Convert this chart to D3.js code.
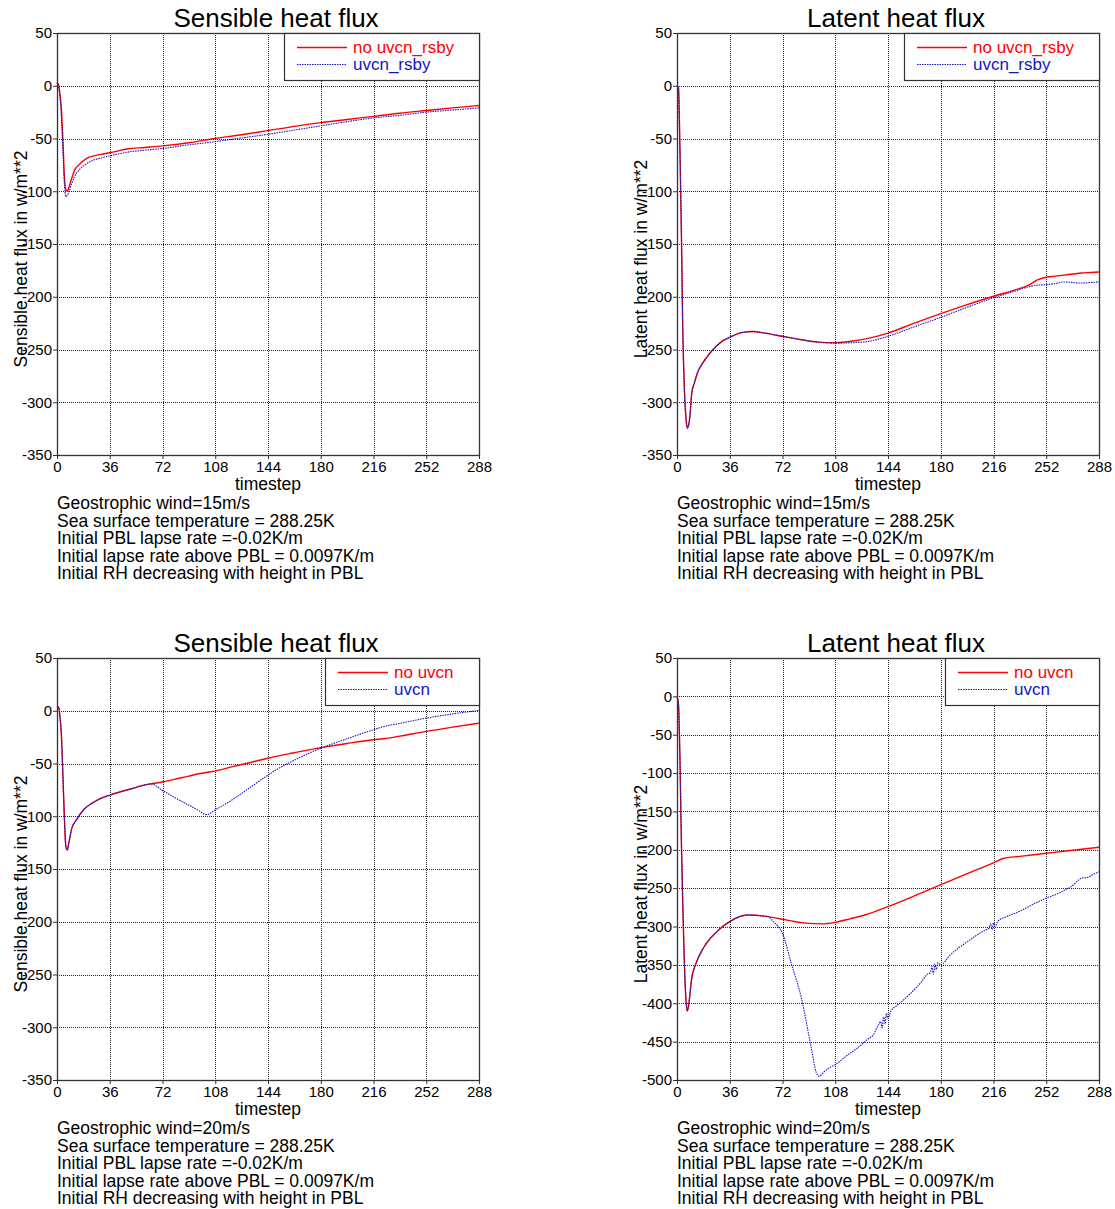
<!DOCTYPE html>
<html lang="en">
<head>
<meta charset="UTF-8">
<script src="https://cdn.jsdelivr.net/npm/d3@7/dist/d3.min.js"></script>
<title>Heat flux</title>
<style>
  body { margin: 0; background: #fff; font-family: Arial, "Liberation Sans", sans-serif; }
</style>
</head>
<body>
<script>
// tick labels
var xTicks = [0, 36, 72, 108, 144, 180, 216, 252, 288];
var yTicksA = [50, 0, -50, -100, -150, -200, -250, -300, -350];
var yTicksB = [50, 0, -50, -100, -150, -200, -250, -300, -350, -400, -450, -500];

// sensible heat flux, 15 m/s
var sh15Steps = [0,1,2,3,4,5,6,7,8,10,12,15,20,25,30,36,48,60,72,90,108,126,144,162,180,198,216,234,252,270,288];
var sh15NoRsby = [3,1,-8,-22,-50,-85,-98,-100,-97,-88,-80,-75,-69,-66.5,-65,-63.5,-60,-58.5,-57,-54,-50,-46.5,-42.5,-38.5,-35,-32,-29,-26,-23.5,-21,-18.7];
var sh15Rsby   = [3,0,-10,-30,-60,-92,-105,-104,-101,-93,-86,-80,-74,-70.5,-68.5,-66.5,-63,-61,-59.5,-56,-53,-49.5,-46,-42,-38,-34,-30.5,-28,-25,-23,-21];

// latent heat flux, 15 m/s
var lh15Steps = [0,1,2,3,4,5,6,7,8,9,10,12,14,17,20,24,30,36,44,52,60,72,84,96,108,120,132,144,162,180,198,216,232,240,246,252,258,264,270,276,282,288];
var lh15NoRsby = [0,-2,-60,-140,-235,-285,-312,-324,-321,-310,-292,-281,-272,-264,-258,-251,-243,-238.5,-234,-233,-234.5,-237.5,-240.5,-243,-243.5,-242,-239,-234.5,-225,-216,-207.5,-199.5,-193,-189,-184,-181.5,-180.5,-179.5,-178.5,-177.5,-177,-176.5];
var lh15Rsby   = [0,-2,-60,-140,-236,-287,-314,-325,-322,-311,-293,-281,-272,-264,-258,-251,-243,-238.5,-234,-233,-234.5,-237.5,-240.5,-243,-244,-243.5,-242,-237.5,-228.5,-219.5,-210,-201,-194,-190.5,-189,-188.5,-187.5,-186,-186.5,-187,-186.5,-186];

// sensible heat flux, 20 m/s
var sh20Steps = [0,1,2,3,4,5,6,7,8,10,13,18,24,30,36,44,52,58,64,72,80,90,96,102,108,120,132,144,152,161,170,180,198,216,223,234,252,270,288];
var sh20NoUvcn = [4,3.5,-5,-23,-60,-100,-128,-132,-126,-112,-104,-94,-87.5,-83,-80,-76.5,-73.5,-71,-69.3,-67.5,-65,-62,-60,-58.5,-57,-53,-49,-45,-42.5,-40,-37.5,-35,-31,-27.5,-26.5,-24,-19.5,-15.5,-11.7];
var sh20Uvcn   = [4,3.5,-5,-23,-60,-100,-128,-132,-126,-112,-104,-94,-87.5,-83,-80,-76.5,-73.5,-71,-69.3,-75.5,-82,-89.5,-94,-98.5,-94,-84,-72.5,-61,-54,-47.5,-41.5,-35.5,-26.5,-18,-15,-12,-7,-3,0.3];

// latent heat flux, 20 m/s
var lh20StepsA = [0,1,2,3,4,5,6,7,8,9,10,13,18,27,36,48,62,72,80,88,99,108,118,128,144,162,180,198,216,223,234,252,270,288];
var lh20NoUvcn = [0,-10,-80,-190,-275,-345,-392,-410,-402,-385,-368,-348,-328,-307,-293.5,-285,-287,-290.5,-293.5,-295.5,-296.5,-294.5,-290,-285,-274,-260,-245.5,-231,-217,-211,-208.5,-204.5,-200.5,-196.7];
var lh20StepsB = [0,1,2,3,4,5,6,7,8,9,10,13,18,27,36,48,62,66,72,78,85,92,95,97,100,104,108,116,124,130,134,137,139,140,141,142,143,144,146,150,155,160,166,171,173,174,175,176,177,178,180,186,192,198,204,210,213,214,215,216,217,219,225,234,243,252,260,266,269,272,276,280,284,288];
var lh20Uvcn   = [0,-10,-80,-190,-275,-345,-392,-410,-402,-385,-368,-348,-328,-307,-293.5,-285,-287,-294,-309,-348,-394,-462,-490,-495,-490,-484,-480,-468,-457,-447,-441,-430,-424,-432,-418,-427,-413,-420,-410,-403,-395,-386,-374,-362,-360,-352,-362,-349,-356,-347,-350,-338,-328,-320,-312,-305,-302,-296,-304,-295,-300,-293,-287,-280,-271,-263,-257,-251,-248,-243,-237,-236,-232,-228.5];

var notes15 = ["Geostrophic wind=15m/s", "Sea surface temperature = 288.25K", "Initial PBL lapse rate =-0.02K/m",
               "Initial lapse rate above PBL = 0.0097K/m", "Initial RH decreasing with height in PBL"];
var notes20 = ["Geostrophic wind=20m/s", "Sea surface temperature = 288.25K", "Initial PBL lapse rate =-0.02K/m",
               "Initial lapse rate above PBL = 0.0097K/m", "Initial RH decreasing with height in PBL"];

function pairs(steps, vals) { return steps.map(function(t, i) { return [t, vals[i]]; }); }

var RED = "#ff0000", BLUE = "#1414c8";
var FONT = "Arial, 'Liberation Sans', sans-serif";
var W = 422, H = 422;

var panels = [
  { left: 57, top: 33, title: "Sensible heat flux", ylabel: "Sensible heat flux in w/m**2", yTicks: yTicksA,
    series: [ { name: "no uvcn_rsby", data: pairs(sh15Steps, sh15NoRsby), color: RED },
              { name: "uvcn_rsby", data: pairs(sh15Steps, sh15Rsby), color: BLUE, dotted: true } ], notes: notes15 },
  { left: 677, top: 33, title: "Latent heat flux", ylabel: "Latent heat flux in w/m**2", yTicks: yTicksA,
    series: [ { name: "no uvcn_rsby", data: pairs(lh15Steps, lh15NoRsby), color: RED },
              { name: "uvcn_rsby", data: pairs(lh15Steps, lh15Rsby), color: BLUE, dotted: true } ], notes: notes15 },
  { left: 57, top: 658, title: "Sensible heat flux", ylabel: "Sensible heat flux in w/m**2", yTicks: yTicksA,
    series: [ { name: "no uvcn", data: pairs(sh20Steps, sh20NoUvcn), color: RED },
              { name: "uvcn", data: pairs(sh20Steps, sh20Uvcn), color: BLUE, dotted: true } ], notes: notes20 },
  { left: 677, top: 658, title: "Latent heat flux", ylabel: "Latent heat flux in w/m**2", yTicks: yTicksB,
    series: [ { name: "no uvcn", data: pairs(lh20StepsA, lh20NoUvcn), color: RED },
              { name: "uvcn", data: pairs(lh20StepsB, lh20Uvcn), color: BLUE, dotted: true } ], notes: notes20 }
];

var svg = d3.select("body").append("svg")
    .attr("width", 1115).attr("height", 1209)
    .style("font-family", FONT);

panels.forEach(function(p) {
  var yMin = d3.min(p.yTicks), yMax = d3.max(p.yTicks);
  var x = d3.scaleLinear().domain([0, 288]).range([0, W]);
  var y = d3.scaleLinear().domain([yMin, yMax]).range([H, 0]);

  var g = svg.append("g").attr("transform", "translate(" + p.left + "," + p.top + ")");

  // grid
  var grid = g.append("g").attr("shape-rendering", "crispEdges")
      .attr("stroke", "#222").attr("stroke-width", 1).attr("stroke-dasharray", "1,1");
  grid.selectAll("line.v").data(xTicks.slice(1, -1)).enter().append("line")
      .attr("x1", function(d) { return Math.round(x(d)) + 0.5; })
      .attr("x2", function(d) { return Math.round(x(d)) + 0.5; })
      .attr("y1", 0).attr("y2", H);
  grid.selectAll("line.h").data(p.yTicks.filter(function(d) { return d !== yMin && d !== yMax; })).enter().append("line")
      .attr("y1", function(d) { return Math.round(y(d)) + 0.5; })
      .attr("y2", function(d) { return Math.round(y(d)) + 0.5; })
      .attr("x1", 0).attr("x2", W);

  // axes (plain hyphen minus, as in the original)
  var plain = function(d) { return String(d); };
  var xa = g.append("g").attr("transform", "translate(0," + H + ")")
      .call(d3.axisBottom(x).tickValues(xTicks).tickFormat(plain).tickSize(4).tickPadding(2));
  var ya = g.append("g")
      .call(d3.axisLeft(y).tickValues(p.yTicks).tickFormat(plain).tickSize(4).tickPadding(1));
  [xa, ya].forEach(function(a) {
    a.attr("font-family", FONT);
    a.select(".domain").remove();
    a.selectAll("line").attr("stroke", "#333");
    a.selectAll("text").attr("font-size", "15px").attr("fill", "#000");
  });

  // lines
  var line = d3.line().x(function(d) { return x(d[0]); }).y(function(d) { return y(d[1]); })
      .curve(d3.curveMonotoneX);
  p.series.forEach(function(s) {
    g.append("path").datum(s.data)
      .attr("fill", "none").attr("stroke", s.color)
      .attr("stroke-width", s.dotted ? 1.1 : 1.4)
      .attr("stroke-dasharray", s.dotted ? "1.5,1" : null)
      .attr("d", line);
  });

  // frame
  g.append("rect").attr("x", 0.5).attr("y", 0.5).attr("width", W).attr("height", H)
    .attr("fill", "none").attr("stroke", "#333").attr("stroke-width", 1.3);

  // legend
  var leg = g.append("g");
  var texts = p.series.map(function(s, i) {
    return leg.append("text").attr("y", 20 + i * 17).attr("font-size", "17px")
      .attr("fill", s.color).text(s.name);
  });
  var tw = d3.max(texts, function(t) { return t.node().getComputedTextLength(); });
  var bw = Math.round(tw + 94);
  leg.attr("transform", "translate(" + (W - bw) + ",0)");
  leg.insert("rect", ":first-child").attr("x", 0.5).attr("y", 0.5).attr("width", bw).attr("height", 47)
    .attr("fill", "#fff").attr("stroke", "#333").attr("stroke-width", 1.2);
  p.series.forEach(function(s, i) {
    leg.append("line").attr("x1", 13).attr("x2", 63).attr("y1", 14.5 + i * 17).attr("y2", 14.5 + i * 17)
      .attr("stroke", s.color).attr("stroke-width", s.dotted ? 1.1 : 1.4)
      .attr("stroke-dasharray", s.dotted ? "1.5,1" : null);
  });
  texts.forEach(function(t) { t.attr("x", 69); });

  // titles and labels
  g.append("text").attr("x", W / 2 + 8).attr("y", -6).attr("text-anchor", "middle")
    .attr("font-size", "26px").text(p.title);
  g.append("text").attr("x", W / 2).attr("y", H + 35).attr("text-anchor", "middle")
    .attr("font-size", "17.5px").text("timestep");
  g.append("text").attr("transform", "translate(-30," + (H / 2 + 15) + ") rotate(-90)")
    .attr("text-anchor", "middle").attr("font-size", "17.5px").text(p.ylabel);

  g.selectAll("text.note").data(p.notes).enter().append("text").attr("class", "note")
    .attr("x", 0).attr("y", function(d, i) { return H + 54 + i * 17.5; })
    .attr("font-size", "17.5px").text(function(d) { return d; });
});
</script>
</body>
</html>
